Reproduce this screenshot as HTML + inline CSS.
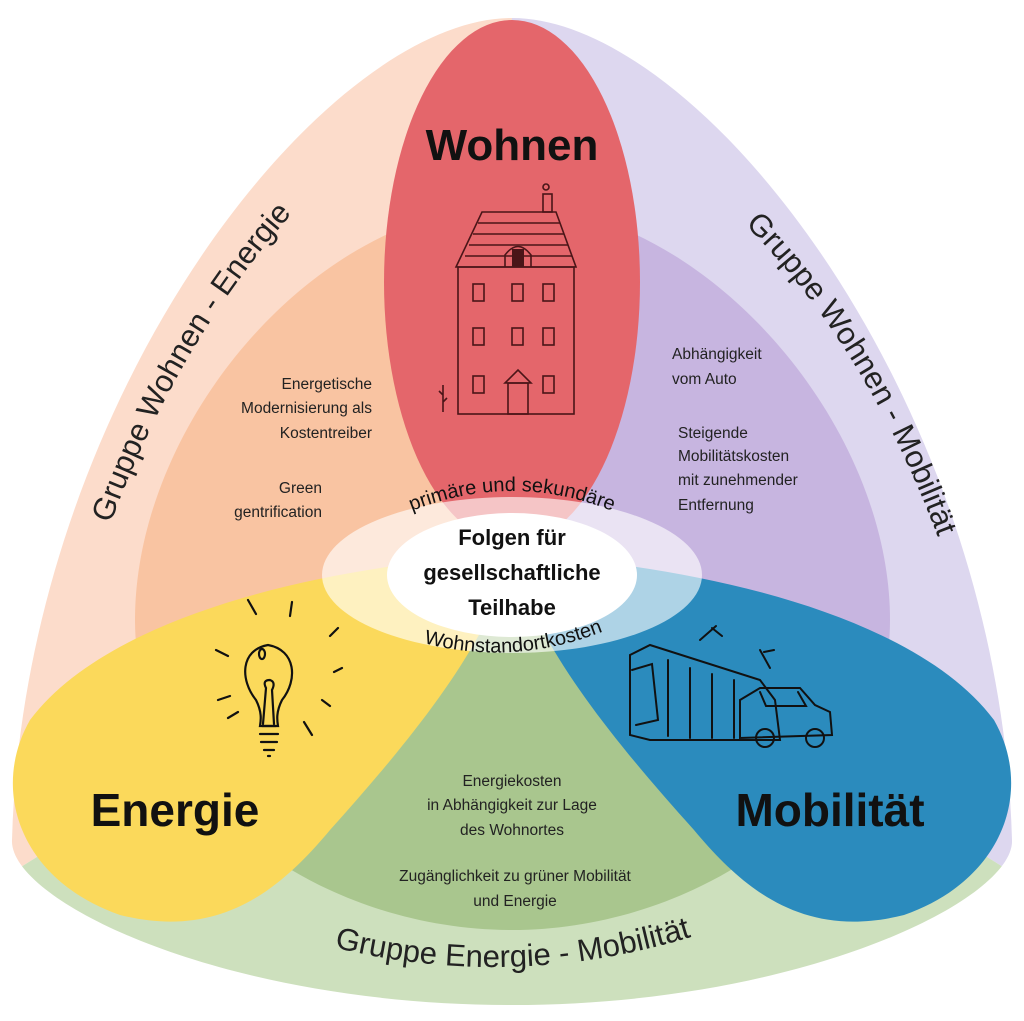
<!DOCTYPE html>
<html><head><meta charset="utf-8">
<style>
html,body{margin:0;padding:0;background:#fff;}
svg{display:block;font-family:"Liberation Sans",sans-serif;}
</style></head>
<body>
<svg width="1024" height="1021" viewBox="0 0 1024 1021" xmlns="http://www.w3.org/2000/svg">
<defs>
<clipPath id="outer"><path d="M512 18 C700 18 1000 400 1012 840 C1015 900 800 1005 512 1005 C220 1005 9 900 12 840 C24 400 324 18 512 18 Z"/></clipPath>
<clipPath id="inner"><path d="M512 205 C700 205 890 420 890 620 C890 800 700 930 512 930 C320 930 135 800 135 620 C135 420 320 205 512 205 Z"/></clipPath>
<path id="arcTop" d="M372 530 Q512 452 652 530"/>
<path id="arcBot" d="M380 628 Q512 684 645 612"/>
<path id="arcL" d="M98 560 Q170 340 318 185"/>
<path id="arcR" d="M708 190 Q870 330 955 585"/>
<path id="arcB" d="M290 935 Q512 1005 735 922"/>
</defs>
<rect width="1024" height="1021" fill="#fff"/>
<g clip-path="url(#outer)">
  <polygon points="512,0 512,560 0,880 0,0" fill="#fcdccb"/>
  <polygon points="512,0 512,560 1024,880 1024,0" fill="#ddd7ef"/>
  <polygon points="512,560 0,880 0,1021 1024,1021 1024,880" fill="#cde0bd"/>
</g>
<g clip-path="url(#inner)">
  <polygon points="512,0 512,560 0,880 0,0" fill="#f9c4a2"/>
  <polygon points="512,0 512,560 1024,880 1024,0" fill="#c7b5e0"/>
  <polygon points="512,560 0,880 0,1021 1024,1021 1024,880" fill="#a9c68e"/>
</g>
<ellipse cx="512" cy="282" rx="128" ry="262" fill="#e4666b"/>
<path d="M512 555 C380 560 120 600 30 720 C-10 790 20 880 120 915 C220 940 280 890 330 830 C420 730 490 640 512 555 Z" fill="#fbd95b"/>
<path d="M512 555 C644 560 904 600 994 720 C1034 790 1004 880 904 915 C804 940 744 890 694 830 C604 730 534 640 512 555 Z" fill="#2b8bbd"/>
<ellipse cx="512" cy="575" rx="190" ry="78" fill="#fff" fill-opacity="0.62"/>
<ellipse cx="512" cy="575" rx="125" ry="62" fill="#fff"/>

<!-- house -->
<g stroke="#4a1518" stroke-width="1.6" fill="none">
  <rect x="543" y="194" width="9" height="18"/>
  <circle cx="546" cy="187" r="3"/>
  <path d="M482 212 L556 212 L576 267 L456 267 Z"/>
  <path d="M478 223 L560 223 M473 234 L564 234 M469 245 L568 245 M465 256 L572 256"/>
  <path d="M505 267 L505 255 Q518 238 531 255 L531 267"/>
  <rect x="458" y="267" width="116" height="147"/>
  <g>
    <rect x="473" y="284" width="11" height="17"/><rect x="512" y="284" width="11" height="17"/><rect x="543" y="284" width="11" height="17"/>
    <rect x="473" y="328" width="11" height="17"/><rect x="512" y="328" width="11" height="17"/><rect x="543" y="328" width="11" height="17"/>
    <rect x="473" y="376" width="11" height="17"/><rect x="543" y="376" width="11" height="17"/>
  </g>
  <path d="M505 383 L518 370 L531 383 Z"/>
  <rect x="508" y="383" width="20" height="31"/>
  <path d="M443 412 L443 385 M443 395 l-4 -4 M443 402 l4 -4"/>
</g>
<rect x="512" y="249" width="12" height="18" fill="#4a1518"/>

<!-- bulb -->
<g stroke="#111" stroke-width="2.2" fill="none" stroke-linecap="round">
  <path d="M256 700 C240 680 240 650 268 645 C296 650 298 680 282 700 C276 712 277 720 278 726 L260 726 C261 720 262 712 256 700 Z"/>
  <path d="M262 726 L276 726 M260 734 L278 734 M261 742 L277 742 M264 750 L274 750 M268 756 L270 756"/>
  <path d="M263 724 L266 688 Q262 680 270 680 Q276 682 272 690 L274 724"/>
  <ellipse cx="262" cy="654" rx="3" ry="5"/>
  <path d="M248 600 L256 614 M292 602 L290 616 M338 628 L330 636 M216 650 L228 656 M342 668 L334 672 M218 700 L230 696 M228 718 L238 712 M330 706 L322 700 M312 735 L304 722"/>
</g>
<!-- tram & car -->
<g stroke="#111" stroke-width="2" fill="none" stroke-linecap="round">
  <path d="M630 655 L650 645 L760 680 L775 700 L780 740 L650 740 L630 735 Z"/>
  <path d="M632 670 L652 664 L658 720 L636 725"/>
  <path d="M700 640 L716 626 M712 628 L722 636 M760 650 L770 668 M764 652 L774 650"/>
  <path d="M668 660 L668 736 M690 668 L690 738 M712 674 L712 738 M734 680 L734 738"/>
  <path d="M740 700 L760 688 L800 688 L815 705 L830 712 L832 735 L740 738 Z"/>
  <circle cx="765" cy="738" r="9"/><circle cx="815" cy="738" r="9"/>
  <path d="M760 692 L766 706 L806 706 L798 692"/>
</g>

<!-- titles -->
<g font-weight="bold" fill="#111" text-anchor="middle">
  <text x="512" y="160" font-size="44">Wohnen</text>
  <text x="175" y="826" font-size="46">Energie</text>
  <text x="830" y="826" font-size="46">Mobilität</text>
  <text x="512" y="545" font-size="22">Folgen für</text>
  <text x="512" y="580" font-size="22">gesellschaftliche</text>
  <text x="512" y="615" font-size="22">Teilhabe</text>
</g>
<g font-size="20" fill="#111">
  <text><textPath href="#arcTop" startOffset="50%" text-anchor="middle">primäre und sekundäre</textPath></text>
  <text><textPath href="#arcBot" startOffset="50%" text-anchor="middle">Wohnstandortkosten</textPath></text>
</g>
<g font-size="31" fill="#222">
  <text><textPath href="#arcL" startOffset="50%" text-anchor="middle">Gruppe Wohnen - Energie</textPath></text>
  <text><textPath href="#arcR" startOffset="50%" text-anchor="middle">Gruppe Wohnen - Mobilität</textPath></text>
  <text><textPath href="#arcB" startOffset="50%" text-anchor="middle">Gruppe Energie - Mobilität</textPath></text>
</g>
<g font-size="15.5" fill="#222">
  <g text-anchor="end">
    <text x="372" y="389">Energetische</text>
    <text x="372" y="413">Modernisierung als</text>
    <text x="372" y="438">Kostentreiber</text>
    <text x="322" y="493">Green</text>
    <text x="322" y="517">gentrification</text>
  </g>
  <text x="672" y="359">Abhängigkeit</text>
  <text x="672" y="384">vom Auto</text>
  <text x="678" y="438">Steigende</text>
  <text x="678" y="461">Mobilitätskosten</text>
  <text x="678" y="485">mit zunehmender</text>
  <text x="678" y="510">Entfernung</text>
  <g text-anchor="middle">
    <text x="512" y="786">Energiekosten</text>
    <text x="512" y="810">in Abhängigkeit zur Lage</text>
    <text x="512" y="835">des Wohnortes</text>
    <text x="515" y="881">Zugänglichkeit zu grüner Mobilität</text>
    <text x="515" y="906">und Energie</text>
  </g>
</g>
</svg>
</body></html>
